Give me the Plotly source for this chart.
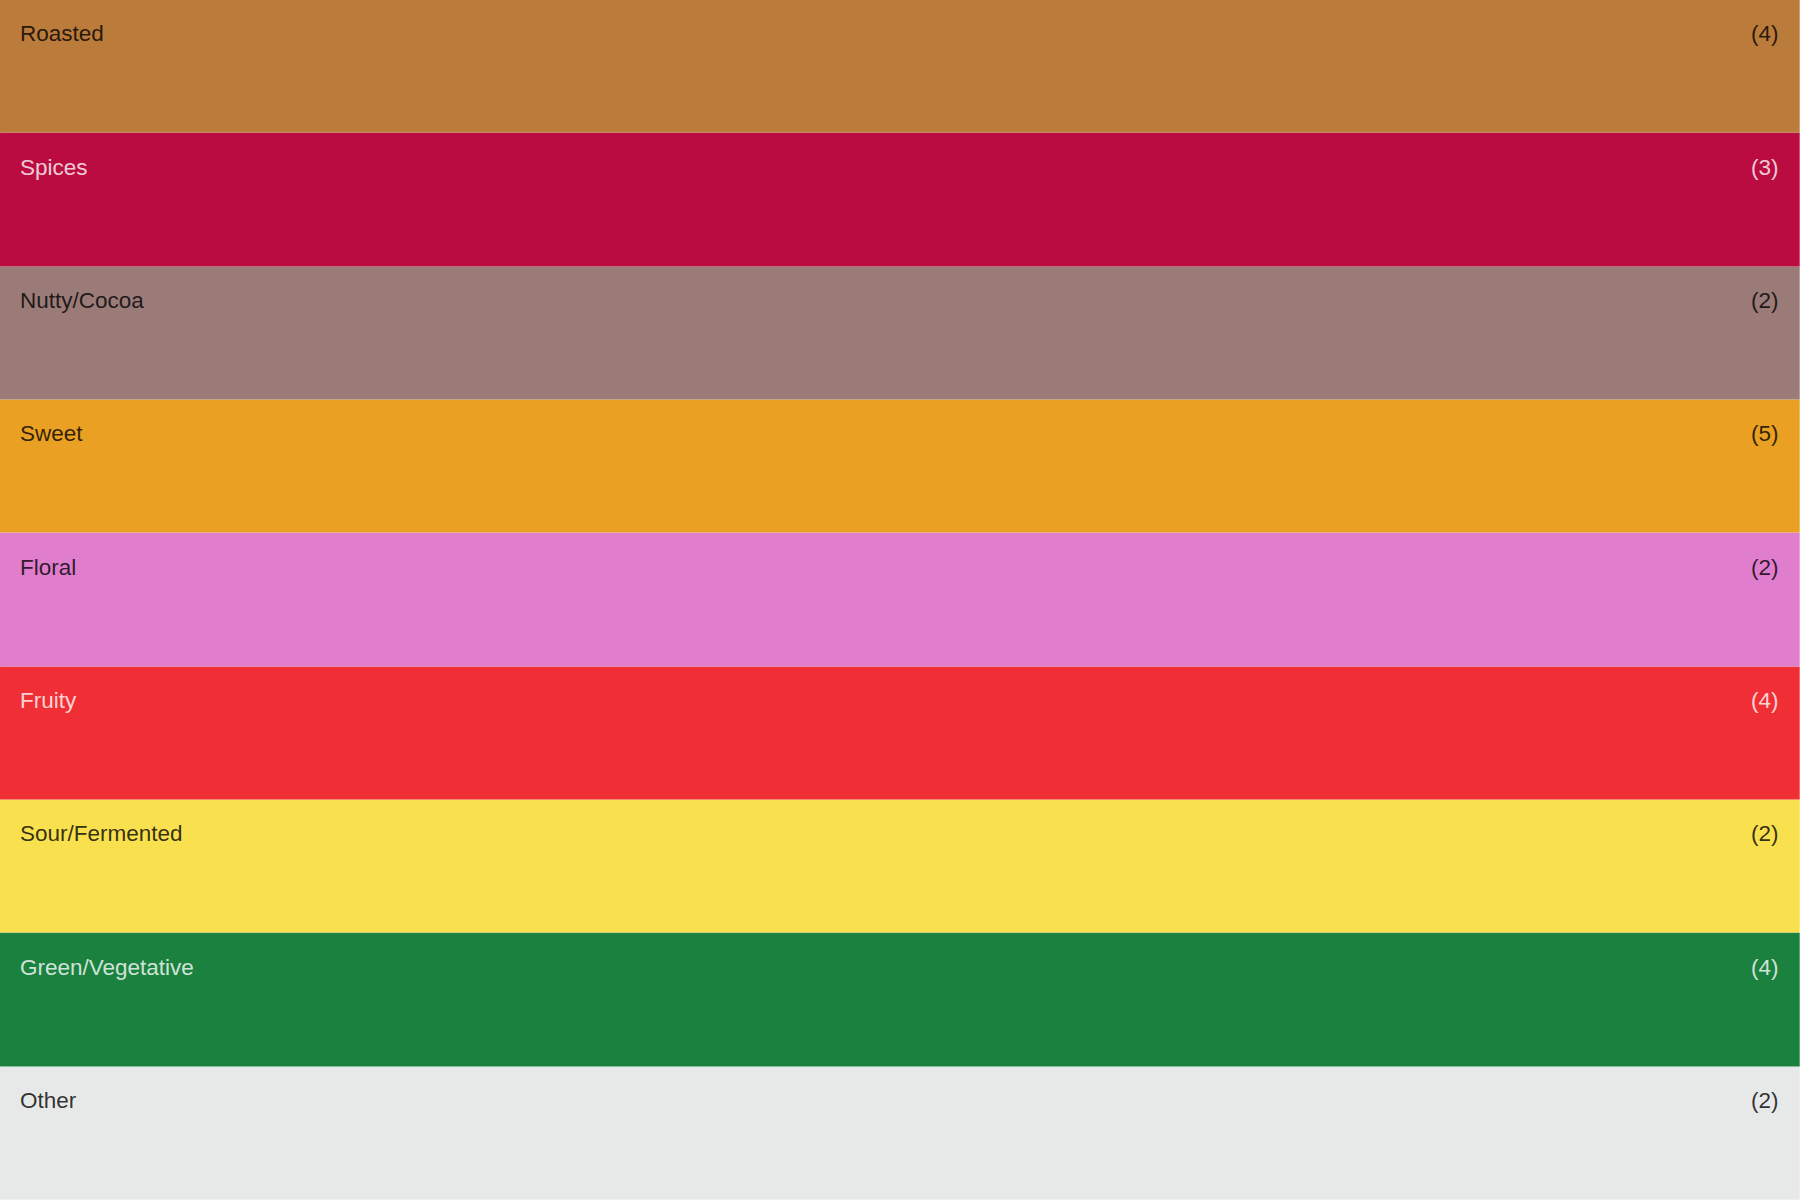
import plotly.graph_objects as go

# flavour groups, top to bottom
groups = ['Roasted', 'Spices', 'Nutty/Cocoa', 'Sweet', 'Floral', 'Fruity',
          'Sour/Fermented', 'Green/Vegetative', 'Other']
counts = [4, 3, 2, 5, 2, 4, 2, 4, 2]
colors = ['#BB7B3B', '#BA0C40', '#9A7B78', '#E9A023', '#E07DCD', '#EF2F35',
          '#F8E04E', '#1B813F', '#E7E9E8']
text_colors = ['rgba(0,0,0,0.8)', 'rgba(255,255,255,0.8)', 'rgba(0,0,0,0.8)',
               'rgba(0,0,0,0.8)', 'rgba(0,0,0,0.8)', 'rgba(255,255,255,0.8)',
               'rgba(0,0,0,0.8)', 'rgba(255,255,255,0.8)', 'rgba(0,0,0,0.8)']

fig = go.Figure(go.Bar(
    y=groups,
    x=[1] * len(groups),
    orientation='h',
    marker=dict(color=colors, line=dict(color='rgba(255,255,255,0.15)', width=0.5)),
    hoverinfo='skip',
))

for g, n, tc in zip(groups, counts, text_colors):
    fig.add_annotation(x=0, xref='paper', y=g, yref='y', xanchor='left', yanchor='middle',
                       xshift=18, yshift=33, text=g, showarrow=False,
                       font=dict(size=22.5, color=tc))
    fig.add_annotation(x=1, xref='paper', y=g, yref='y', xanchor='right', yanchor='middle',
                       xshift=-19, yshift=33, text='(%d)' % n, showarrow=False,
                       font=dict(size=22.5, color=tc))

fig.update_layout(
    width=1800, height=1200,
    margin=dict(l=0, r=0, t=0, b=0),
    bargap=0,
    showlegend=False,
    plot_bgcolor='white', paper_bgcolor='white',
    font=dict(family='Liberation Sans, Arial, sans-serif'),
    xaxis=dict(visible=False, range=[0, 1], fixedrange=True),
    yaxis=dict(visible=False, range=[len(groups) - 0.5, -0.5], fixedrange=True),
)

# drop the browser's default body margin so the bands reach the page edges
fig.write_html('out.html', config={'displayModeBar': False},
               post_script="document.body.style.margin='0';")
